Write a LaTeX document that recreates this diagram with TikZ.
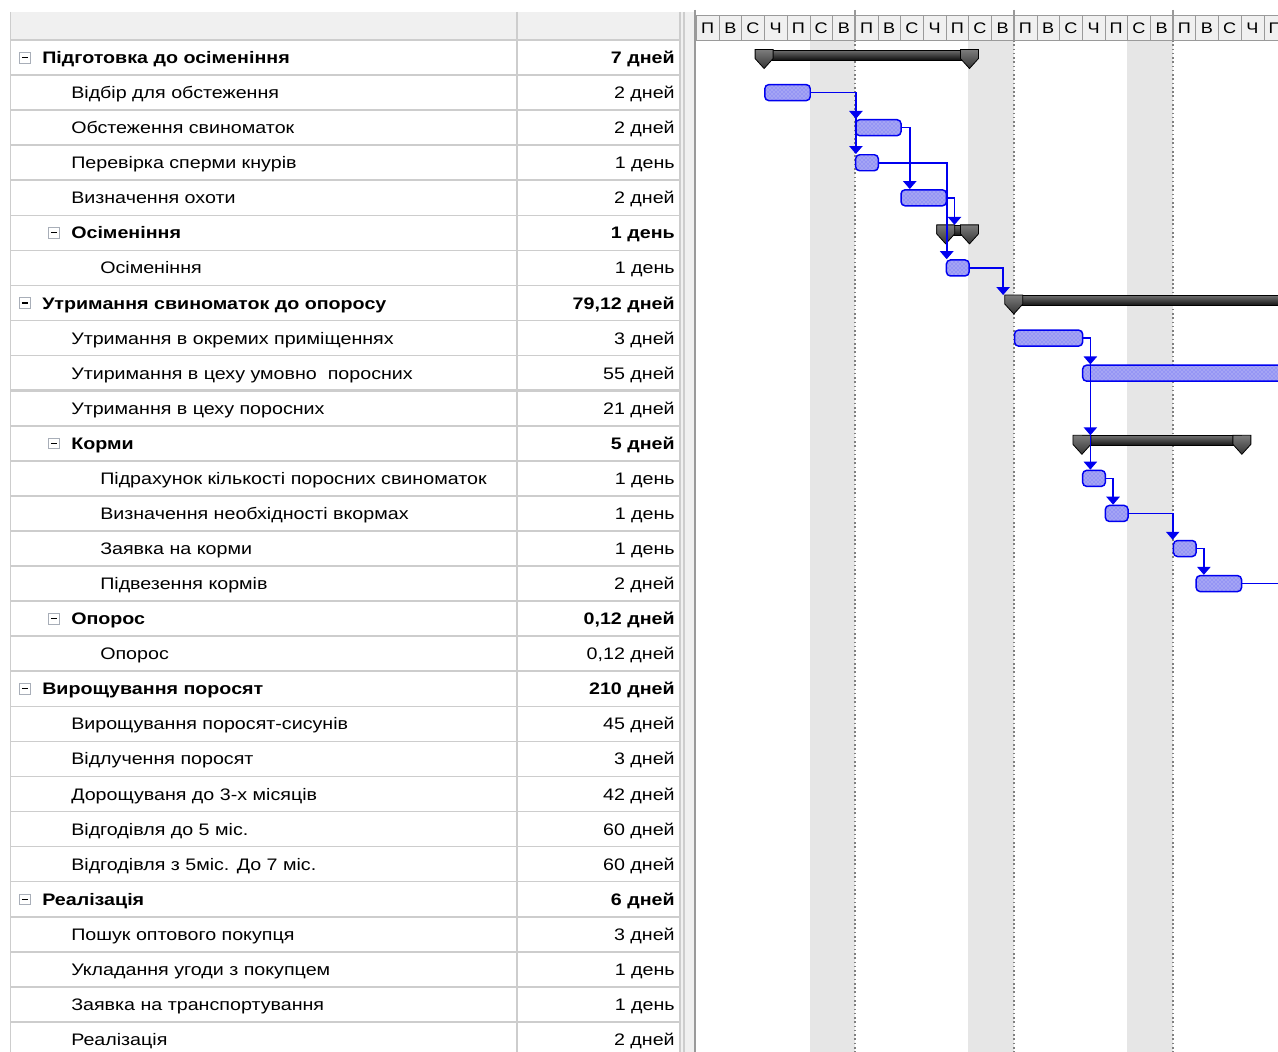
\documentclass[tikz,border=0pt]{standalone}
\usepackage{fontspec}
\setmainfont{Liberation Sans}[FakeStretch=1.18]
\usetikzlibrary{
    positioning,
    calc,
    arrows.meta,
    patterns
}
\definecolor{GridGray}{HTML}{CDCDCD}
\definecolor{HeadGray}{HTML}{F0F0F0}
\definecolor{HeadLine}{HTML}{9A9A9A}
\definecolor{WeekGray}{HTML}{E6E6E6}
\definecolor{TaskFill}{HTML}{A4A4F4}
\definecolor{TaskBlue}{HTML}{0000F0}
\definecolor{SumDark}{HTML}{101010}
\definecolor{SumLight}{HTML}{6E6E6E}
\definecolor{MinusGray}{HTML}{A8AEB8}

\newcommand{\dayx}[1]{696+22.7*(#1)}
\newcommand{\rowy}[1]{22.465+35.07*(#1)}
\def\dayw{17.025pt}

\tikzset{
    cell/.style={font=\fontsize{12.5}{14}\selectfont, inner sep=0pt, anchor=base west},
    sum0/.style={cell, font=\fontsize{12.5}{14}\selectfont\bfseries, xshift=31.5pt},
    sum1/.style={cell, font=\fontsize{12.5}{14}\selectfont\bfseries, xshift=53.25pt},
    tsk1/.style={cell, xshift=53.25pt},
    tsk2/.style={cell, xshift=75pt},
    durB/.style={cell, anchor=base east, font=\fontsize{12.5}{14}\selectfont\bfseries},
    durN/.style={cell, anchor=base east},
    minusbox/.style={draw=MinusGray, fill=white, minimum size=8pt, inner sep=0pt,
        path picture={\draw[black, line width=0.9pt]
            ([xshift=1.6pt]path picture bounding box.west) --
            ([xshift=-1.6pt]path picture bounding box.east);}},
    daycell/.style={draw=HeadLine, fill=HeadGray, minimum width=\dayw,
        minimum height=18.75pt, inner sep=0pt, anchor=north west,
        font=\fontsize{11.5}{12}\selectfont},
    task/.style={draw=TaskBlue, line width=1.1pt, rounded corners=3pt,
        preaction={fill=TaskFill}, pattern=crosshatch dots, pattern color=TaskBlue!60,
        minimum height=12pt, inner sep=0pt, anchor=west},
    sumbar/.style={draw=black, line width=0.8pt, top color=SumLight, bottom color=SumDark,
        minimum height=7.5pt, inner sep=0pt, anchor=north west},
    pics/sumcap/.style={code={
        \draw[black, line width=0.6pt, top color=SumLight!90, bottom color=SumDark!85]
            (-9,0) -- (9,0) -- (9,9) -- (0,19) -- (-9,9) -- cycle;}},
    link/.style={draw=TaskBlue, line width=1.2pt, -{Triangle[width=10pt,length=6pt]}},
    rowline/.style={draw=GridGray, line width=1.2pt}
}

\begin{document}
\begin{tikzpicture}[x=0.75pt, y=-0.75pt]
\useasboundingbox (0,0) rectangle (1278,1052);
\fill[white] (0,0) rectangle (1278,1052);

% table frame
\fill[HeadGray] (10,12) rectangle (680,40);
\fill[HeadGray] (681,12) rectangle (694,1052);
\foreach \k in {0,...,29}
    \draw[rowline] (10,{40+35.07*\k}) -- (680,{40+35.07*\k});
\draw[GridGray, line width=2.2pt] (10,{40+35.07*10}) -- (680,{40+35.07*10});
\foreach \xx in {10.5,517,680,684}
    \draw[GridGray, line width=1.2pt] (\xx,12) -- (\xx,1052);
\draw[HeadLine, line width=1.5pt] (694.5,10) -- (694.5,1052);

% task names and durations
\foreach \i/\sty/\dsty/\txt/\dur in {
    1/sum0/durB/{Підготовка до осіменіння}/{7 дней},
    2/tsk1/durN/{Відбір для обстеження}/{2 дней},
    3/tsk1/durN/{Обстеження свиноматок}/{2 дней},
    4/tsk1/durN/{Перевірка сперми кнурів}/{1 день},
    5/tsk1/durN/{Визначення охоти}/{2 дней},
    6/sum1/durB/{Осіменіння}/{1 день},
    7/tsk2/durN/{Осіменіння}/{1 день},
    8/sum0/durB/{Утримання свиноматок до опоросу}/{79,12 дней},
    9/tsk1/durN/{Утримання в окремих приміщеннях}/{3 дней},
    10/tsk1/durN/{Утиримання в цеху умовно~ поросних}/{55 дней},
    11/tsk1/durN/{Утримання в цеху поросних}/{21 дней},
    12/sum1/durB/{Корми}/{5 дней},
    13/tsk2/durN/{Підрахунок кількості поросних свиноматок}/{1 день},
    14/tsk2/durN/{Визначення необхідності вкормах}/{1 день},
    15/tsk2/durN/{Заявка на корми}/{1 день},
    16/tsk2/durN/{Підвезення кормів}/{2 дней},
    17/sum1/durB/{Опорос}/{0,12 дней},
    18/tsk2/durN/{Опорос}/{0,12 дней},
    19/sum0/durB/{Вирощування поросят}/{210 дней},
    20/tsk1/durN/{Вирощування поросят-сисунів}/{45 дней},
    21/tsk1/durN/{Відлучення поросят}/{3 дней},
    22/tsk1/durN/{Дорощуваня до 3-х місяців}/{42 дней},
    23/tsk1/durN/{Відгодівля до 5 міс.}/{60 дней},
    24/tsk1/durN/{Відгодівля з 5міс. До 7 міс.}/{60 дней},
    25/sum0/durB/{Реалізація}/{6 дней},
    26/tsk1/durN/{Пошук оптового покупця}/{3 дней},
    27/tsk1/durN/{Укладання угоди з покупцем}/{1 день},
    28/tsk1/durN/{Заявка на транспортування}/{1 день},
    29/tsk1/durN/{Реалізація}/{2 дней}}{
    \node[\sty] (n\i) at (0,{\rowy{\i}+6}) {\txt};
    \node[\dsty] (d\i) at (675,{\rowy{\i}+6}) {\dur};
}
\foreach \i/\xx in {1/25,6/54,8/25,12/54,17/54,19/25,25/25}
    \node[minusbox] (m\i) at (\xx,{\rowy{\i}}) {};

% gantt part
\begin{scope}
\clip (695.5,0) rectangle (1278,1052);
\foreach \w in {0,...,3} {
    \fill[WeekGray] ({\dayx{7*\w+5}},40) rectangle ({\dayx{7*\w+7}},1052);
    \draw[gray, dotted, line width=1.2pt] ({\dayx{7*\w+7}},40) -- ({\dayx{7*\w+7}},1052);
}
\foreach \w in {0,...,3}
    \foreach \dn/\dl in {0/П,1/В,2/С,3/Ч,4/П,5/С,6/В} {
        \pgfmathtruncatemacro{\k}{7*\w+\dn}
        \node[daycell] (h\k) at ({\dayx{\k}},15) {\dl};
    }
\foreach \w in {1,2,3}
    \draw[HeadLine, line width=1.2pt] ({\dayx{7*\w}},10) -- ({\dayx{7*\w}},40);

% bars
\node[task, minimum width=2*\dayw] (b2) at ({\dayx{3}},{\rowy{2}}) {};
\node[task, minimum width=2*\dayw] (b3) at ({\dayx{7}},{\rowy{3}}) {};
\node[task, minimum width=\dayw] (b4) at ({\dayx{7}},{\rowy{4}}) {};
\node[task, minimum width=2*\dayw] (b5) at ({\dayx{9}},{\rowy{5}}) {};
\node[task, minimum width=\dayw] (b7) at ({\dayx{11}},{\rowy{7}}) {};
\node[task, minimum width=3*\dayw] (b9) at ({\dayx{14}},{\rowy{9}}) {};
\node[task, minimum width=12*\dayw] (b10) at ({\dayx{17}},{\rowy{10}}) {};
\node[task, minimum width=\dayw] (b13) at ({\dayx{17}},{\rowy{13}}) {};
\node[task, minimum width=\dayw] (b14) at ({\dayx{18}},{\rowy{14}}) {};
\node[task, minimum width=\dayw] (b15) at ({\dayx{21}},{\rowy{15}}) {};
\node[task, minimum width=2*\dayw] (b16) at ({\dayx{22}},{\rowy{16}}) {};

\node[sumbar, minimum width=9*\dayw] (s1) at ({\dayx{3}},{\rowy{1}-8}) {};
\node[sumbar, minimum width=\dayw] (s6) at ({\dayx{11}},{\rowy{6}-8}) {};
\node[sumbar, minimum width=16*\dayw] (s8) at ({\dayx{14}},{\rowy{8}-8}) {};
\node[sumbar, minimum width=7*\dayw] (s12) at ({\dayx{17}},{\rowy{12}-8}) {};
\foreach \s in {s1,s6,s12} {
    \pic at (\s.north west) {sumcap};
    \pic at (\s.north east) {sumcap};
}
\pic at (s8.north west) {sumcap};

% links
\draw[link] (b2.east) -| ([xshift=0.75pt]b3.north west);
\draw[link] (b2.east) -| ([xshift=0.75pt]b4.north west);
\draw[link] (b3.east) -| ([xshift=6pt]b3.east |- b5.north);
\draw[link] (b4.east) -| ([xshift=0.75pt]b7.north west);
\draw[link] (b5.east) -| ([xshift=5.5pt]b5.east |- s6.north);
\draw[link] (b7.east) -| ([xshift=-8pt]s8.north west);
\draw[link] (b9.east) -| ([xshift=5.25pt]b9.east |- b10.north);
\draw[link] (b9.east) -| ([xshift=5.25pt]b9.east |- s12.north);
\draw[link] (b9.east) -| ([xshift=5.25pt]b9.east |- b13.north);
\draw[link] (b13.east) -| ([xshift=5.25pt]b13.east |- b14.north);
\draw[link] (b14.east) -| (b15.north west);
\draw[link] (b15.east) -| ([xshift=5.25pt]b15.east |- b16.north);
\coordinate (opr) at (1290,{\rowy{16}});
\draw[link, -] (b16.east) -- (opr);
\end{scope}
\end{tikzpicture}
\end{document}
